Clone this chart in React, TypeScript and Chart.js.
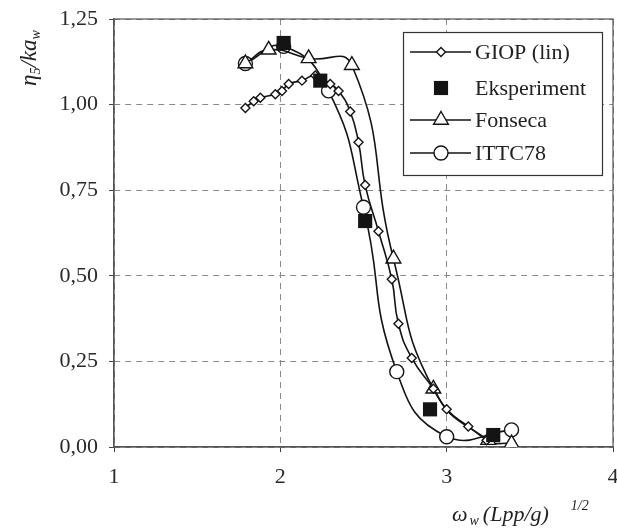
import React, { useEffect, useRef } from 'react';
import { Chart, registerables } from 'chart.js';

Chart.register(...registerables);

// ---- data ----
const giopX = [1.79, 1.84, 1.88, 1.97, 2.01, 2.05, 2.13, 2.21, 2.30, 2.35, 2.42, 2.47, 2.51, 2.59, 2.67, 2.71, 2.79, 2.92, 3.00, 3.13, 3.24];
const giopY = [0.99, 1.01, 1.02, 1.03, 1.04, 1.06, 1.07, 1.085, 1.06, 1.04, 0.98, 0.89, 0.765, 0.63, 0.49, 0.36, 0.26, 0.17, 0.11, 0.06, 0.02];

const expX = [2.02, 2.24, 2.51, 2.90, 3.28];
const expY = [1.18, 1.07, 0.66, 0.11, 0.035];

const fonX = [1.79, 1.93, 2.17, 2.43, 2.68, 2.92, 3.25, 3.39];
const fonY = [1.12, 1.16, 1.135, 1.115, 0.55, 0.17, 0.02, 0.01];

const ittcX = [1.79, 2.02, 2.29, 2.50, 2.70, 3.00, 3.39];
const ittcY = [1.12, 1.17, 1.04, 0.70, 0.22, 0.03, 0.05];

const xTicks = [1, 2, 3, 4];
const yTicks = [0, 0.25, 0.5, 0.75, 1.0, 1.25];

const legendLabels = ['GIOP (lin)', 'Eksperiment', 'Fonseca', 'ITTC78'];

const FONT = "'Liberation Serif', 'Times New Roman', serif";
const INK = '#141414';

const toPts = (xs: number[], ys: number[]) => xs.map((x, i) => ({ x, y: ys[i] }));

function drawMarker(ctx: CanvasRenderingContext2D, style: string, x: number, y: number, r: number) {
  ctx.beginPath();
  if (style === 'rectRot') {
    ctx.moveTo(x, y - r); ctx.lineTo(x + r, y); ctx.lineTo(x, y + r); ctx.lineTo(x - r, y); ctx.closePath();
    ctx.fillStyle = '#fff'; ctx.fill(); ctx.stroke();
  } else if (style === 'rect') {
    const s = r * Math.SQRT1_2;
    ctx.rect(x - s, y - s, 2 * s, 2 * s);
    ctx.fillStyle = INK; ctx.fill();
  } else if (style === 'triangle') {
    for (let k = 0; k < 3; k++) {
      const a = (k * 2 * Math.PI) / 3;
      const px = x + Math.sin(a) * r, py = y - Math.cos(a) * r;
      if (k === 0) ctx.moveTo(px, py); else ctx.lineTo(px, py);
    }
    ctx.closePath();
    ctx.fillStyle = '#fff'; ctx.fill(); ctx.stroke();
  } else {
    ctx.arc(x, y, r, 0, Math.PI * 2);
    ctx.fillStyle = '#fff'; ctx.fill(); ctx.stroke();
  }
}

const framePlugin = {
  id: 'frame',
  beforeDatasetsDraw(chart: any) {
    const { ctx, chartArea: a } = chart;
    ctx.save();
    ctx.strokeStyle = '#555';
    ctx.lineWidth = 1.2;
    ctx.strokeRect(a.left, a.top, a.right - a.left, a.bottom - a.top);
    ctx.restore();
  },
};

const decorPlugin = {
  id: 'decor',
  afterDraw(chart: any) {
    const ctx: CanvasRenderingContext2D = chart.ctx;
    ctx.save();
    // legend
    const bx = 403.5, by = 32.5, bw = 199, bh = 143;
    ctx.fillStyle = '#fff';
    ctx.fillRect(bx, by, bw, bh);
    ctx.strokeStyle = '#333';
    ctx.lineWidth = 1.2;
    ctx.strokeRect(bx, by, bw, bh);
    const rows = [52, 88, 120, 153];
    const styles = ['rectRot', 'rect', 'triangle', 'circle'];
    const radii = [4.5, 10, 8.5, 7];
    const lines = [true, false, true, true];
    legendLabels.forEach((lab, i) => {
      const y = rows[i];
      ctx.strokeStyle = INK;
      ctx.lineWidth = 1.6;
      if (lines[i]) {
        ctx.beginPath(); ctx.moveTo(410, y); ctx.lineTo(471, y); ctx.stroke();
      }
      ctx.lineWidth = 1.4;
      drawMarker(ctx, styles[i], 441, y, radii[i]);
      ctx.fillStyle = '#222';
      ctx.font = `22px ${FONT}`;
      ctx.textBaseline = 'middle';
      ctx.textAlign = 'left';
      ctx.fillText(lab, 475, y + 1);
    });

    // y axis title (rotated): η5/kaw
    ctx.save();
    ctx.translate(36, 86);
    ctx.rotate(-Math.PI / 2);
    ctx.fillStyle = '#222';
    ctx.textBaseline = 'alphabetic';
    ctx.textAlign = 'left';
    let cx = 0;
    ctx.font = `italic 23px ${FONT}`;
    ctx.fillText('η', cx, 0); cx += ctx.measureText('η').width;
    ctx.font = `italic 14px ${FONT}`;
    ctx.fillText('5', cx, 4); cx += ctx.measureText('5').width;
    ctx.font = `italic 23px ${FONT}`;
    ctx.fillText('/ka', cx, 0); cx += ctx.measureText('/ka').width;
    ctx.font = `italic 14px ${FONT}`;
    ctx.fillText('w', cx, 4);
    ctx.restore();

    // x axis title: ω w (Lpp/g) 1/2
    ctx.fillStyle = '#222';
    ctx.textBaseline = 'alphabetic';
    ctx.textAlign = 'left';
    let tx = 452;
    const base = 521;
    ctx.font = `italic 22px ${FONT}`;
    ctx.fillText('ω', tx, base); tx += ctx.measureText('ω').width + 2;
    ctx.font = `italic 14px ${FONT}`;
    ctx.fillText('w', tx, base + 4); tx += ctx.measureText('w').width + 4;
    ctx.font = `italic 22px ${FONT}`;
    ctx.fillText('(Lpp/g)', tx, base); tx += ctx.measureText('(Lpp/g)').width + 22;
    ctx.font = `italic 14px ${FONT}`;
    ctx.fillText('1/2', tx, base - 11);
    ctx.restore();
  },
};

export default function App() {
  const ref = useRef<HTMLCanvasElement>(null);

  useEffect(() => {
    document.body.style.margin = '0';
    const canvas = ref.current;
    if (!canvas) return;
    const common = { borderColor: INK, pointBorderColor: INK, pointBackgroundColor: '#fff', borderWidth: 1.6, pointBorderWidth: 1.4, tension: 0.5, fill: false };
    const chart = new Chart(canvas, {
      type: 'line',
      data: {
        datasets: [
          { label: legendLabels[1], data: toPts(expX, expY), showLine: false, pointStyle: 'rect', pointRadius: 10, pointBackgroundColor: INK, pointBorderColor: INK, pointBorderWidth: 0, borderColor: INK },
          { label: legendLabels[0], data: toPts(giopX, giopY), ...common, pointStyle: 'rectRot', pointRadius: 4.5 },
          { label: legendLabels[2], data: toPts(fonX, fonY), ...common, pointStyle: 'triangle', pointRadius: 8.5 },
          { label: legendLabels[3], data: toPts(ittcX, ittcY), ...common, pointStyle: 'circle', pointRadius: 7 },
        ] as any,
      },
      options: {
        animation: false,
        responsive: false,
        devicePixelRatio: 1,
        layout: { autoPadding: false, padding: { top: 19, right: 4, left: 0, bottom: 0 } },
        plugins: { legend: { display: false }, tooltip: { enabled: false } },
        scales: {
          x: {
            type: 'linear',
            min: 1,
            max: 4,
            afterBuildTicks: (s: any) => { s.ticks = xTicks.map((v) => ({ value: v })); },
            afterFit: (s: any) => { s.height = 81; s.paddingLeft = 0; s.paddingRight = 0; },
            ticks: { color: '#2a2a2a', font: { family: FONT, size: 22 }, padding: 12, maxRotation: 0, callback: (v: any) => String(v) },
            grid: { color: '#8a8a8a', lineWidth: 1, tickLength: 5, tickColor: '#444' },
            border: { color: '#555', width: 1.2, dash: [6, 5] },
          },
          y: {
            type: 'linear',
            min: 0,
            max: 1.25,
            afterBuildTicks: (s: any) => { s.ticks = yTicks.map((v) => ({ value: v })); },
            afterFit: (s: any) => { s.width = 114; s.paddingTop = 0; s.paddingBottom = 0; },
            ticks: { color: '#2a2a2a', font: { family: FONT, size: 22 }, padding: 11, callback: (v: any) => Number(v).toFixed(2).replace('.', ',') },
            grid: { color: '#8a8a8a', lineWidth: 1, tickLength: 5, tickColor: '#444' },
            border: { color: '#555', width: 1.2, dash: [6, 5] },
          },
        },
      } as any,
      plugins: [framePlugin, decorPlugin],
    });
    return () => chart.destroy();
  }, []);

  return (
    <div style={{ position: 'absolute', left: 0, top: 0, width: 617, height: 528, background: '#fff' }}>
      <canvas ref={ref} width={617} height={528} style={{ width: 617, height: 528, display: 'block' }} />
    </div>
  );
}
